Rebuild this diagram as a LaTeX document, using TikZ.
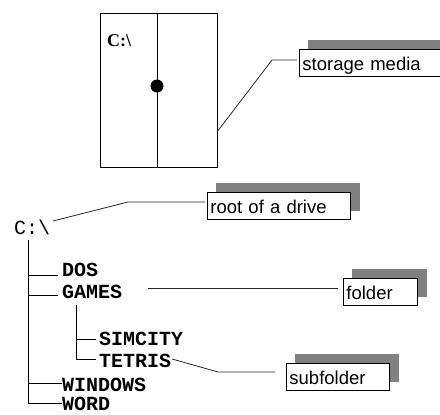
\documentclass[tikz,border=0pt]{standalone}
\usepackage{fontspec}
\newfontfamily\lblfont{Liberation Sans}
\newfontfamily\treefont{Liberation Mono}
\newfontfamily\serfont{Liberation Serif}
\usetikzlibrary{backgrounds}
\definecolor{shade}{RGB}{128,128,128}
\tikzset{
  lbl/.style={draw, fill=white, line width=0.9pt, font=\lblfont\fontsize{18.5}{21}\selectfont,
    inner xsep=3pt, inner ysep=3pt, text height=18pt, text depth=3pt,
    text width=#1, align=left, anchor=north west},
  dir/.style={font=\treefont\bfseries\fontsize{20}{22}\selectfont, inner sep=0pt, anchor=base west},
  conn/.style={line width=0.8pt, draw=black!85},
  treeline/.style={line width=0.9pt},
  shadowbox/.style={fill=shade}
}
\begin{document}
\begin{tikzpicture}[x=1pt,y=-1pt]
\useasboundingbox (0,0) rectangle (440,415);

% storage medium drawing
\node[draw, line width=1pt, minimum width=117pt, minimum height=154pt, inner sep=0pt, anchor=north west] (disk) at (100,13) {};
\draw[line width=1pt] ([xshift=-1.5pt]disk.north) -- ([xshift=-1.5pt]disk.south);
\fill (157,86) circle (6.5);
\node[font=\serfont\bfseries\fontsize{18}{20}\selectfont, inner sep=0pt, anchor=base west] (dl) at (107,46) {C:\textbackslash};

% label boxes
\node[lbl=139pt] (sm) at (299,49) {storage media};
\node[lbl=137pt] (rt) at (207,192) {root of a drive};
\node[lbl=68pt] (fd) at (343,278) {folder};
\node[lbl=97pt] (sb) at (286,363) {subfolder};

\begin{scope}[on background layer]
  \foreach \b in {sm,rt,fd,sb}
    \fill[shadowbox] ([shift={(9,-9)}]\b.south west) rectangle ([shift={(9,-9)}]\b.north east);
\end{scope}

% tree texts
\node[font=\treefont\fontsize{20}{22}\selectfont, inner sep=0pt, anchor=base west] (root) at (14,234) {C:\textbackslash};
\node[dir] (dos) at (62,276) {DOS};
\node[dir] (games) at (62,298) {GAMES};
\node[dir] (simcity) at (99,345) {SIMCITY};
\node[dir] (tetris) at (99,367) {TETRIS};
\node[dir] (windows) at (62,391) {WINDOWS};
\node[dir] (word) at (62,410) {WORD};

% tree lines
\coordinate (t0) at (28,240);
\coordinate (tdos) at (28,275);
\coordinate (tgames) at (28,295);
\coordinate (twin) at (28,383);
\coordinate (tword) at (28,403);
\draw[treeline] (t0) -- (tword) -- (tword -| word.west);
\draw[treeline] (twin) -- (twin -| windows.west);
\draw[treeline] (tdos) -- ([xshift=-4pt]tdos -| dos.west);
\draw[treeline] (tgames) -- ([xshift=-4pt]tgames -| games.west);
\coordinate (g0) at (76,305);
\coordinate (gsim) at (76,339);
\coordinate (gtet) at (76,359);
\draw[treeline] (g0) -- (gtet) -- ([xshift=-3pt]gtet -| tetris.west);
\draw[treeline] (gsim) -- ([xshift=-3pt]gsim -| simcity.west);

% connectors
\coordinate (s1) at (272,60);
\coordinate (s2) at (217,132);
\draw[conn] ([xshift=-2pt]sm.west |- s1) -- (s1) -- (s2);
\coordinate (r1) at (128,202);
\coordinate (r2) at (53,221);
\draw[conn] ([xshift=-2pt]rt.west |- r1) -- (r1) -- (r2);
\coordinate (f1) at (148,288);
\draw[conn] (f1) -- ([xshift=-5pt]f1 -| fd.west);
\coordinate (b0) at (172,359);
\coordinate (b1) at (218,372);
\draw[conn] (b0) -- (b1) -- ([xshift=-11pt]b1 -| sb.west);
\end{tikzpicture}
\end{document}
